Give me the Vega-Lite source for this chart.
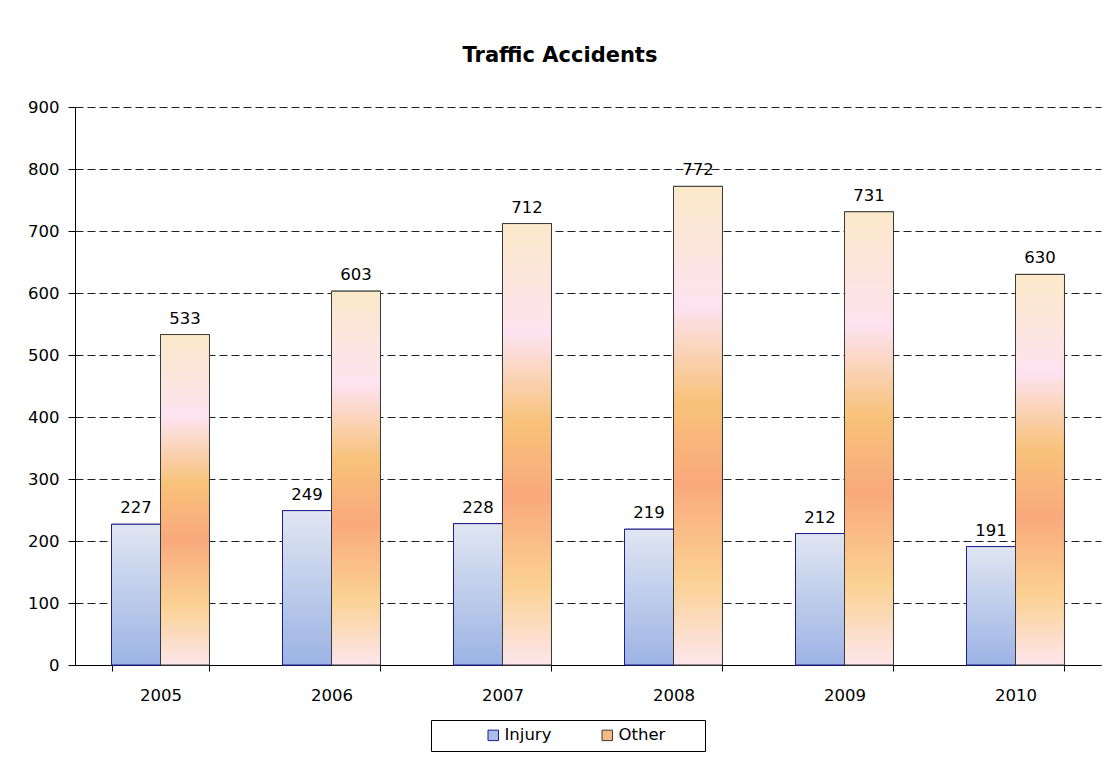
{
  "$schema": "https://vega.github.io/schema/vega-lite/v6.json",
  "width": 1026,
  "height": 558,
  "autosize": "none",
  "padding": {"left": 75, "top": 107, "right": 4, "bottom": 92},
  "background": "white",
  "title": {
    "text": "Traffic Accidents",
    "font": "DejaVu Sans",
    "fontSize": 21,
    "fontWeight": "bold",
    "color": "black",
    "anchor": "middle",
    "dx": -28,
    "offset": 33
  },
  "data": {
    "values": [
      {"year": "2005", "series": "Injury", "value": 227},
      {"year": "2005", "series": "Other", "value": 533},
      {"year": "2006", "series": "Injury", "value": 249},
      {"year": "2006", "series": "Other", "value": 603},
      {"year": "2007", "series": "Injury", "value": 228},
      {"year": "2007", "series": "Other", "value": 712},
      {"year": "2008", "series": "Injury", "value": 219},
      {"year": "2008", "series": "Other", "value": 772},
      {"year": "2009", "series": "Injury", "value": 212},
      {"year": "2009", "series": "Other", "value": 731},
      {"year": "2010", "series": "Injury", "value": 191},
      {"year": "2010", "series": "Other", "value": 630}
    ]
  },
  "encoding": {
    "x": {
      "field": "year",
      "type": "nominal",
      "scale": {"paddingInner": 0.427, "paddingOuter": 0.2135},
      "axis": {
        "title": null,
        "labelAngle": 0,
        "labelFont": "DejaVu Sans",
        "labelFontSize": 16.5,
        "labelColor": "black",
        "domainColor": "black",
        "tickColor": "black",
        "tickSize": 6,
        "tickBand": "extent",
        "labelPadding": 16,
        "grid": false
      }
    },
    "xOffset": {"field": "series", "type": "nominal", "sort": ["Injury", "Other"], "scale": {"domain": ["Injury", "Other"]}},
    "y": {
      "field": "value",
      "type": "quantitative",
      "scale": {"domain": [0, 900], "nice": false},
      "axis": {
        "title": null,
        "values": [0, 100, 200, 300, 400, 500, 600, 700, 800, 900],
        "labelFont": "DejaVu Sans",
        "labelFontSize": 16.5,
        "labelColor": "black",
        "domainColor": "black",
        "tickColor": "black",
        "tickSize": 7,
        "labelPadding": 9,
        "grid": true,
        "gridColor": "#222222",
        "gridDash": [8, 4],
        "gridWidth": 1
      }
    }
  },
  "layer": [
    {
      "mark": {"type": "bar", "strokeWidth": 1},
      "encoding": {
        "fill": {
          "field": "series",
          "type": "nominal",
          "scale": {"domain": ["Injury", "Other"], "range": ["#aabee9", "#f9b984"]},
          "legend": {
            "title": " ",
            "titleOrient": "right",
            "titlePadding": 33,
            "orient": "none",
            "legendX": 356,
            "legendY": 613,
            "direction": "horizontal",
            "strokeColor": "black",
            "fillColor": "white",
            "padding": 7,
            "symbolType": "square",
            "symbolSize": 110,
            "symbolStrokeWidth": 1,
            "symbolOffset": 47,
            "labelFont": "DejaVu Sans",
            "labelFontSize": 16.5,
            "labelColor": "black",
            "labelOffset": 3,
            "columnPadding": 0
          }
        },
        "stroke": {
          "field": "series",
          "type": "nominal",
          "scale": {"domain": ["Injury", "Other"], "range": ["#1c1c8c", "#3a3a3a"]},
          "legend": null
        }
      }
    },
    {
      "transform": [{"filter": "datum.series === 'Injury'"}],
      "mark": {
        "type": "bar",
        "stroke": "#1c1c8c",
        "strokeWidth": 1,
        "fill": {"gradient": "linear", "x1": 0, "y1": 0, "x2": 0, "y2": 1,
          "stops": [
            {"offset": 0, "color": "#e0e6f2"},
            {"offset": 1, "color": "#9cb3e4"}
          ]}
      }
    },
    {
      "transform": [{"filter": "datum.series === 'Other'"}],
      "mark": {
        "type": "bar",
        "stroke": "#3a3a3a",
        "strokeWidth": 1,
        "fill": {"gradient": "linear", "x1": 0, "y1": 0, "x2": 0, "y2": 1,
          "stops": [
            {"offset": 0, "color": "#fbe9c9"},
            {"offset": 0.25, "color": "#fde3f0"},
            {"offset": 0.45, "color": "#f8c27a"},
            {"offset": 0.62, "color": "#f9a97c"},
            {"offset": 0.82, "color": "#fbd192"},
            {"offset": 1, "color": "#fde6ec"}
          ]}
      }
    },
    {
      "mark": {"type": "text", "baseline": "bottom", "dy": -8, "font": "DejaVu Sans", "fontSize": 16.5, "color": "black"},
      "encoding": {
        "text": {"field": "value", "type": "quantitative"}
      }
    }
  ],
  "config": {
    "view": {"stroke": null}
  }
}
